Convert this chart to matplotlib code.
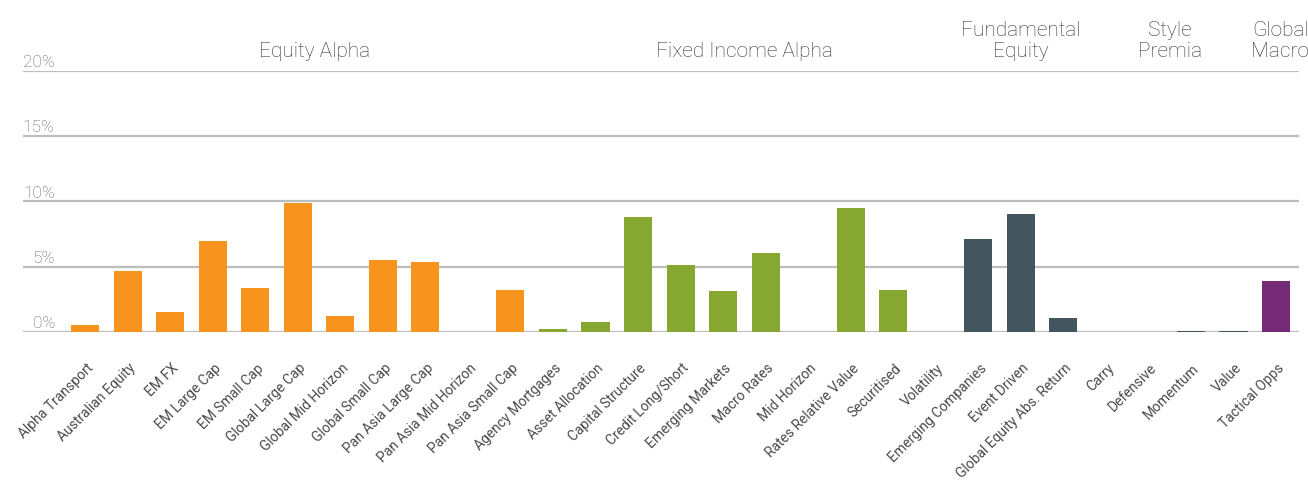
import matplotlib
matplotlib.use("Agg")
import matplotlib.pyplot as plt
import matplotlib.transforms as mtransforms
from matplotlib import font_manager

# data
categories = [
    "Alpha Transport", "Australian Equity", "EM FX", "EM Large Cap", "EM Small Cap",
    "Global Large Cap", "Global Mid Horizon", "Global Small Cap", "Pan Asia Large Cap",
    "Pan Asia Mid Horizon", "Pan Asia Small Cap",
    "Agency Mortgages", "Asset Allocation", "Capital Structure", "Credit Long/Short",
    "Emerging Markets", "Macro Rates", "Mid Horizon", "Rates Relative Value",
    "Securitised", "Volatility",
    "Emerging Companies", "Event Driven", "Global Equity Abs. Return",
    "Carry", "Defensive", "Momentum", "Value",
    "Tactical Opps",
]
values = [
    0.5, 4.7, 1.5, 7.0, 3.4, 9.85, 1.2, 5.5, 5.35, 0.02, 3.2,
    0.2, 0.75, 8.8, 5.1, 3.1, 6.05, 0.02, 9.5, 3.2, 0.03,
    7.1, 9.0, 1.05,
    0.02, 0.02, 0.05, 0.05,
    3.9,
]
groups = ["Equity Alpha", "Fixed Income Alpha", "Fundamental\nEquity", "Style\nPremia", "Global\nMacro"]
group_sizes = [11, 10, 3, 4, 1]
group_colors = ["#F7941D", "#87A830", "#43555F", "#43555F", "#752A78"]
yticks = [0, 5, 10, 15, 20]

plt.rcParams['font.family'] = ['Roboto', 'DejaVu Sans']
installed = {f.name for f in font_manager.fontManager.ttflist}
narrow = 'Liberation Sans Narrow' in installed
label_family = ['Liberation Sans Narrow'] if narrow else ['Roboto']
label_size = 12 if narrow else 10

fig = plt.figure(figsize=(13.08, 4.9), dpi=100)
ax = fig.add_axes([23 / 1308, 158 / 490, 1276 / 1308, 261.3 / 490])

bar_colors = []
for size, col in zip(group_sizes, group_colors):
    bar_colors += [col] * size
x = list(range(len(categories)))

for y in yticks:
    ax.axhline(y, color="#BDBDBD", lw=1.6, zorder=1)

ax.bar(x, values, width=0.66, color=bar_colors, zorder=2)

ax.set_xlim(-1.46, len(categories) - 0.46)
ax.set_ylim(0, 20)
for s in ax.spines.values():
    s.set_visible(False)
ax.set_yticks([])
ax.set_xticks(x)
ax.set_xticklabels(categories, rotation=45, ha="right", rotation_mode="anchor",
                   fontsize=label_size, color="#4A4A4A", family=label_family)
ax.tick_params(axis="x", length=0, pad=21)
shift = mtransforms.ScaledTranslation(1 / 100, 0, fig.dpi_scale_trans)
for lab in ax.get_xticklabels():
    lab.set_transform(lab.get_transform() + shift)

# y labels sit just above the gridlines
trans = mtransforms.blended_transform_factory(ax.transAxes, ax.transData)
for y in yticks:
    ax.text(0.025, y + 0.05, f"{y}%", transform=trans, ha="right", va="bottom",
            fontsize=12.5, color="#666666", fontweight="light")

# group headers
header_x = [5.4, 15.5, 22, 25.5, 28.1]
for name, hx in zip(groups, header_x):
    ax.text(hx, 20.75, name, ha="center", va="bottom", fontsize=15,
            color="#333333", fontweight="light", linespacing=1.15)

fig.savefig("out.png", dpi=100)
